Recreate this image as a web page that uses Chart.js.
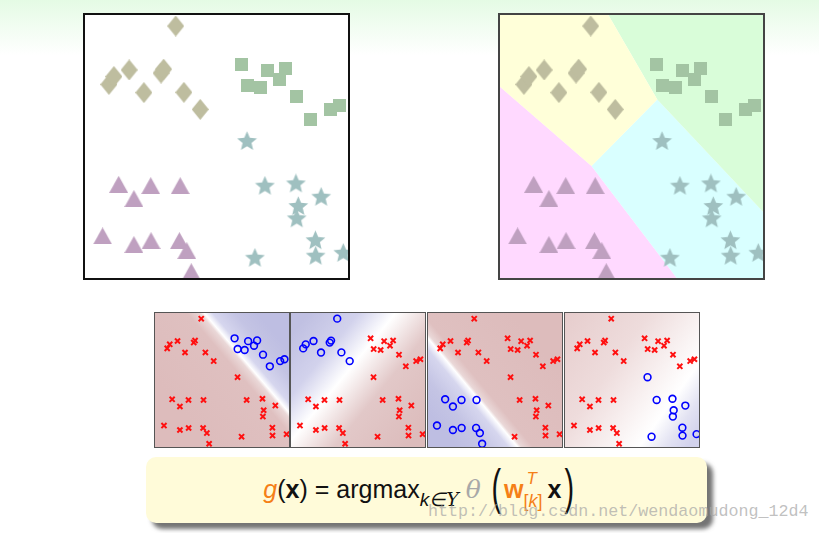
<!DOCTYPE html>
<html>
<head>
<meta charset="utf-8">
<script src="https://cdn.jsdelivr.net/npm/chart.js@4.4.0/dist/chart.umd.min.js"></script>
<style>
  body {
    margin: 0; width: 819px; height: 533px; overflow: hidden; position: relative;
    background: linear-gradient(#e4fbe4 0px, #f2fdf2 28px, #ffffff 55px);
    font-family: 'Liberation Sans', Arial, sans-serif;
  }
  .box { position: absolute; }
  .box canvas { display: block; }
  #b1 { left: 83px; top: 13px; width: 263px; height: 263px; border: 2px solid #111; background: #fff; }
  #b2 { left: 498px; top: 13px; width: 263px; height: 263px; border: 2px solid #444; background: #fff; }
  .p { top: 312px; width: 134px; height: 134px; border: 1px solid #555; }
  #fbox {
    position: absolute; left: 146px; top: 457px; width: 561px; height: 66px;
    background: #fffbd9; border-radius: 10px;
    box-shadow: 6px 6px 4px rgba(70, 70, 70, 0.75);
  }
  #eq {
    position: absolute; left: 140px; width: 561px; top: 474px; text-align: center;
    font-size: 25px; line-height: 30px; white-space: nowrap; color: #111;
  }
  #eq .or { color: #f57f17; }
  #eq .it { font-style: italic; }
  #eq sub { font-size: 19px; vertical-align: -8px; line-height: 0; }
  #eq .th { font-family: 'DejaVu Serif', serif; font-style: italic; color: #a8a8a8; }
  #eq .big { display: inline-block; font-size: 25px; transform: scale(1.15, 2.0); transform-origin: 50% 60%; margin: 0 4px; }
  #eq .ss { display: inline-block; position: relative; width: 24px; height: 10px; }
  #eq .ss .t { position: absolute; left: 3px; top: -24px; font-size: 17px; font-style: italic; color: #f57f17; }
  #eq .ss .k { position: absolute; left: 0; top: -2px; font-size: 18px; color: #f57f17; }
  #wm {
    position: absolute; left: 428px; top: 502px; font-family: 'Liberation Mono', monospace;
    font-size: 16.7px; color: rgba(165, 165, 165, 0.7); white-space: nowrap;
  }
</style>
</head>
<body>
<div class="box" id="b1"><canvas id="c1" width="263" height="263"></canvas></div>
<div class="box" id="b2"><canvas id="c2" width="263" height="263"></canvas></div>
<div class="box p" style="left:154px"><canvas id="p1" width="134" height="134"></canvas></div>
<div class="box p" style="left:290px"><canvas id="p2" width="134" height="134"></canvas></div>
<div class="box p" style="left:427px"><canvas id="p3" width="134" height="134"></canvas></div>
<div class="box p" style="left:564px"><canvas id="p4" width="134" height="134"></canvas></div>
<div id="fbox"></div>
<div id="eq"><span class="or it">g</span>(<b>x</b>) = argmax<sub class="it">k∈<span style="font-family:'DejaVu Serif',serif">Y</span></sub> <span class="th">θ</span> <span class="big">(</span><b class="or">w</b><span class="ss"><span class="t">T</span><span class="k">[<i>k</i>]</span></span><b>x</b><span class="big">)</span></div>
<div id="wm">http://blog.csdn.net/wendaomudong_12d4</div>
<script>
// point clusters, same samples in every plot (x, y on a 0..100 grid)
const clusterA = [[34.5,95.8],[9.1,73.6],[11.0,76.6],[16.8,79.1],[28.9,77.9],[29.9,79.4],[22.4,70.5],[37.6,70.6],[43.8,64.1]];
const clusterB = [[59.4,81.1],[69.5,79.0],[76.2,79.5],[61.7,73.1],[66.9,72.4],[73.9,75.6],[80.6,68.9],[85.7,60.2],[93.4,64.1],[96.6,65.5]];
const clusterC = [[12.8,35.6],[25.0,35.1],[36.2,35.1],[18.6,30.2],[6.7,16.0],[18.6,12.7],[25.1,14.2],[35.9,14.2],[38.7,10.4],[40.4,2.4]];
const clusterD = [[61.6,52.1],[68.4,35.1],[80.2,36.0],[89.8,30.9],[81.1,27.4],[80.5,22.7],[87.6,14.4],[87.7,8.5],[64.6,7.7],[98.2,9.6]];

// decision regions of the multiclass plot
const regionYellow = [[0,100],[41.2,100],[59.8,67.9],[34.8,42.6],[0,72.7]];
const regionGreen  = [[41.2,100],[100,100],[100,25.2],[59.8,67.9]];
const regionCyan   = [[59.8,67.9],[100,25.2],[100,0],[67.2,0],[34.8,42.6]];
const regionPink   = [[0,72.7],[34.8,42.6],[67.2,0],[0,0]];

// one-vs-rest panels: which cluster is the positive (blue) class
const panelPositive = [clusterB, clusterA, clusterC, clusterD];
const allClusters = [clusterA, clusterB, clusterC, clusterD];

const pts = arr => arr.map(([x, y]) => ({ x, y }));
const closed = arr => pts(arr.concat([arr[0]]));

function marker(w, h, color, draw) {
  const c = document.createElement('canvas');
  c.width = w; c.height = h;
  const g = c.getContext('2d');
  g.fillStyle = color;
  g.beginPath();
  draw(g, w, h);
  g.closePath();
  g.fill();
  return c;
}

const diamond = marker(17, 21, '#bebd9f', (g, w, h) => {
  g.moveTo(w / 2, 0); g.lineTo(w, h / 2); g.lineTo(w / 2, h); g.lineTo(0, h / 2);
});
const square = marker(13, 13, '#a3c4a3', (g, w, h) => g.rect(0, 0, w, h));
const triangle = marker(19, 17, '#bfa0c0', (g, w, h) => {
  g.moveTo(w / 2, 0); g.lineTo(w, h); g.lineTo(0, h);
});
const star = marker(21, 20, '#9fc0c0', (g, w, h) => {
  const r = 10.4, cx = w / 2, cy = 10.6;
  for (let i = 0; i < 10; i++) {
    const rr = i % 2 ? r * 0.45 : r;
    const a = -Math.PI / 2 + i * Math.PI / 5;
    g.lineTo(cx + rr * Math.cos(a), cy + rr * Math.sin(a));
  }
});

function baseOptions() {
  return {
    responsive: false,
    animation: false,
    events: [],
    layout: { padding: 0, autoPadding: false },
    plugins: { legend: { display: false }, tooltip: { enabled: false } },
    scales: {
      x: { type: 'linear', min: 0, max: 100, display: false },
      y: { type: 'linear', min: 0, max: 100, display: false },
    },
  };
}

function shapeSets() {
  return [
    { data: pts(clusterA), pointStyle: diamond, pointRadius: 10, clip: false },
    { data: pts(clusterB), pointStyle: square, pointRadius: 8, clip: false },
    { data: pts(clusterD), pointStyle: star, pointRadius: 10, clip: false },
    { data: pts(clusterC), pointStyle: triangle, pointRadius: 10, clip: false },
  ];
}

function region(arr, color) {
  return {
    data: closed(arr), showLine: true, fill: 'shape', backgroundColor: color,
    borderWidth: 0, pointRadius: 0, tension: 0, order: 1,
  };
}

new Chart(document.getElementById('c1'), {
  type: 'scatter',
  data: { datasets: shapeSets() },
  options: baseOptions(),
});

new Chart(document.getElementById('c2'), {
  type: 'scatter',
  data: {
    datasets: shapeSets().concat([
      region(regionYellow, '#ffffd9'),
      region(regionGreen, '#d9fdd9'),
      region(regionCyan, '#d9ffff'),
      region(regionPink, '#ffd9ff'),
    ]),
  },
  options: baseOptions(),
});

// gradient behind each one-vs-rest panel (red side -> white boundary -> blue side)
const panelBackground = {
  id: 'panelBackground',
  beforeDraw(chart, args, opts) {
    const { ctx, chartArea: a, scales: { x, y } } = chart;
    const g = ctx.createLinearGradient(
      x.getPixelForValue(opts.from[0]), y.getPixelForValue(opts.from[1]),
      x.getPixelForValue(opts.to[0]), y.getPixelForValue(opts.to[1]));
    opts.stops.forEach(([t, c]) => g.addColorStop(t, c));
    ctx.save();
    ctx.fillStyle = g;
    ctx.fillRect(a.left, a.top, a.width, a.height);
    ctx.restore();
  },
};

const panelShade = [
  { from: [22.6, 23.9], to: [91.1, 82.3], stops: [[0, '#ddbcbc'], [0.56, '#dfc0c0'], [0.64, '#ead8d8'], [0.667, '#ffffff'], [0.72, '#d6d6ee'], [0.86, '#c4c4e4'], [1, '#bebee2']] },
  { from: [93.7, 8.6], to: [0.8, 84.7], stops: [[0, '#dcbcbc'], [0.35, '#e2c8c8'], [0.583, '#ffffff'], [0.76, '#d2d2ec'], [1, '#c0c0e2']] },
  { from: [79.8, 78.9], to: [6.5, 18.4], stops: [[0, '#ddbcbc'], [0.54, '#dfc0c0'], [0.61, '#ead8d8'], [0.632, '#ffffff'], [0.69, '#d6d6ee'], [0.84, '#c4c4e4'], [1, '#bebee2']] },
  { from: [-8, 92.5], to: [101.9, 14.1], stops: [[0, '#e6cccc'], [0.4, '#eedcdc'], [0.78, '#ffffff'], [0.9, '#e2e2f2'], [1, '#d2d2ec']] },
];

panelPositive.forEach((pos, i) => {
  const negative = allClusters.filter(c => c !== pos).flat();
  const opts = baseOptions();
  opts.plugins.panelBackground = panelShade[i];
  new Chart(document.getElementById('p' + (i + 1)), {
    type: 'scatter',
    data: {
      datasets: [
        { data: pts(negative), pointStyle: 'crossRot', pointRadius: 3.6, borderWidth: 2, borderColor: '#ff1010' },
        { data: pts(pos), pointStyle: 'circle', pointRadius: 3.4, borderWidth: 1.6, borderColor: '#0000ff', backgroundColor: 'rgba(0,0,0,0)' },
      ],
    },
    options: opts,
    plugins: [panelBackground],
  });
});
</script>
</body>
</html>
